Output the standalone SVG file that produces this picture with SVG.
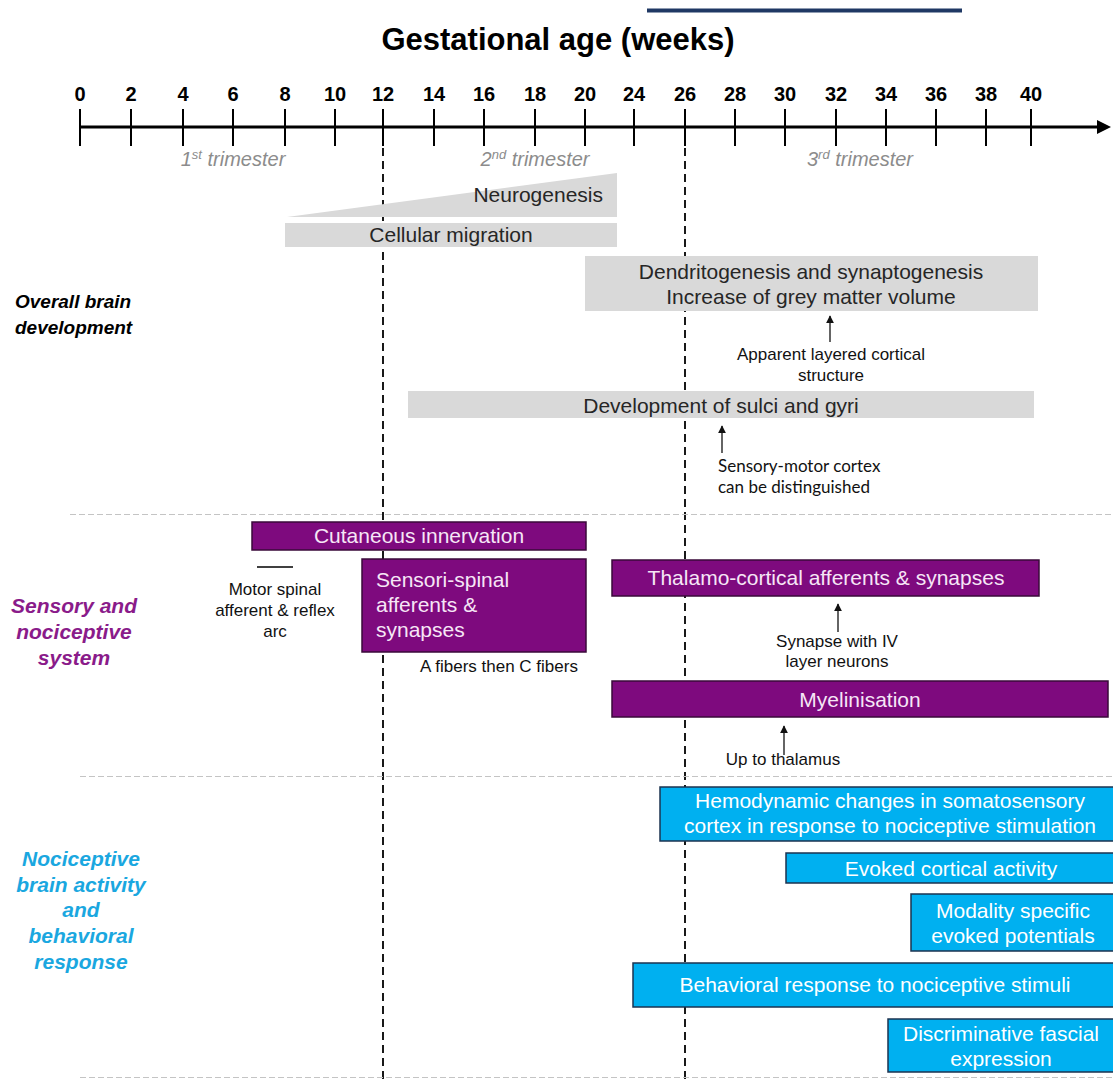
<svg xmlns="http://www.w3.org/2000/svg" width="1113" height="1079" viewBox="0 0 1113 1079">
<style>
  text { font-family: "Liberation Sans", Arial, sans-serif; }
  .tick { stroke:#000; stroke-width:2; }
  .tlab { font-size:20px; font-weight:bold; fill:#000; text-anchor:middle; }
  .tri { font-size:20px; font-style:italic; fill:#8c8c8c; text-anchor:middle; }
  .gray { fill:#d9d9d9; }
  .gtxt { font-size:21px; fill:#262626; text-anchor:middle; }
  .purp { fill:#7e0a7e; stroke:#3a0a3a; stroke-width:1.5; }
  .ptxt { font-size:21px; fill:#f6e6f6; text-anchor:middle; }
  .blue { fill:#00b0f0; stroke:#1b3350; stroke-width:1.5; }
  .btxt { font-size:21px; fill:#ffffff; text-anchor:middle; }
  .note { font-size:17px; fill:#111; text-anchor:middle; }
  .note2 { font-size:17px; fill:#111; font-family:Lato, "Open Sans", sans-serif; }
  .vdash { stroke:#000; stroke-width:1.8; stroke-dasharray:8 5; fill:none; }
  .sep { stroke:#c4c4c4; stroke-width:1.2; stroke-dasharray:6 3; fill:none; }
  .conn { stroke:#111; stroke-width:1.3; fill:none; marker-end:url(#ah); }
  .cat { font-size:21px; font-weight:bold; font-style:italic; text-anchor:middle; }
</style>
<defs>
  <marker id="ah" viewBox="0 0 10 10" refX="9" refY="5" markerWidth="8" markerHeight="8" markerUnits="userSpaceOnUse" orient="auto">
    <path d="M0,0 L10,5 L0,10 z" fill="#111"/>
  </marker>
</defs>
<rect width="1113" height="1079" fill="#ffffff"/>

<!-- top blue line -->
<rect x="647" y="8.5" width="315" height="4" fill="#1f3864"/>

<!-- title -->
<text x="558" y="50" font-size="31" font-weight="bold" text-anchor="middle" fill="#000">Gestational age (weeks)</text>

<!-- axis -->
<g id="axis">
  <line x1="80" y1="127" x2="1100" y2="127" stroke="#000" stroke-width="3"/>
  <path d="M1111,127 L1097,120 L1097,134 z" fill="#000"/>
  <g class="tick">
    <line x1="80" y1="109" x2="80" y2="146"/>
    <line x1="131" y1="109" x2="131" y2="146"/>
    <line x1="183" y1="109" x2="183" y2="146"/>
    <line x1="233" y1="109" x2="233" y2="146"/>
    <line x1="285" y1="109" x2="285" y2="146"/>
    <line x1="335" y1="109" x2="335" y2="146"/>
    <line x1="383" y1="109" x2="383" y2="146"/>
    <line x1="434" y1="109" x2="434" y2="146"/>
    <line x1="484" y1="109" x2="484" y2="146"/>
    <line x1="535" y1="109" x2="535" y2="146"/>
    <line x1="585" y1="109" x2="585" y2="146"/>
    <line x1="634" y1="109" x2="634" y2="146"/>
    <line x1="685" y1="109" x2="685" y2="146"/>
    <line x1="735" y1="109" x2="735" y2="146"/>
    <line x1="785" y1="109" x2="785" y2="146"/>
    <line x1="836" y1="109" x2="836" y2="146"/>
    <line x1="886" y1="109" x2="886" y2="146"/>
    <line x1="936" y1="109" x2="936" y2="146"/>
    <line x1="986" y1="109" x2="986" y2="146"/>
    <line x1="1031" y1="109" x2="1031" y2="146"/>
  </g>
  <g class="tlab">
    <text x="80" y="101">0</text>
    <text x="131" y="101">2</text>
    <text x="183" y="101">4</text>
    <text x="233" y="101">6</text>
    <text x="285" y="101">8</text>
    <text x="335" y="101">10</text>
    <text x="383" y="101">12</text>
    <text x="434" y="101">14</text>
    <text x="484" y="101">16</text>
    <text x="535" y="101">18</text>
    <text x="585" y="101">20</text>
    <text x="634" y="101">24</text>
    <text x="685" y="101">26</text>
    <text x="735" y="101">28</text>
    <text x="785" y="101">30</text>
    <text x="836" y="101">32</text>
    <text x="886" y="101">34</text>
    <text x="936" y="101">36</text>
    <text x="986" y="101">38</text>
    <text x="1031" y="101">40</text>
  </g>
  <text class="tri" x="233" y="166">1<tspan font-size="13" dy="-7">st</tspan><tspan dy="7"> trimester</tspan></text>
  <text class="tri" x="535" y="166">2<tspan font-size="13" dy="-7">nd</tspan><tspan dy="7"> trimester</tspan></text>
  <text class="tri" x="860" y="166">3<tspan font-size="13" dy="-7">rd</tspan><tspan dy="7"> trimester</tspan></text>
</g>

<!-- reference dashed lines and separators -->
<g id="guides">
  <line class="vdash" x1="383" y1="148" x2="383" y2="1079"/>
  <line class="vdash" x1="685" y1="148" x2="685" y2="1079"/>
  <line class="sep" x1="70" y1="514.5" x2="1113" y2="514.5"/>
  <line class="sep" x1="80" y1="776.5" x2="1113" y2="776.5"/>
  <line class="sep" x1="80" y1="1077.5" x2="1113" y2="1077.5" stroke="#e2e2e2"/>
</g>

<!-- category labels -->
<g id="cat-overall">
  <text x="15" y="308" font-size="19" font-weight="bold" font-style="italic" fill="#000">Overall brain</text>
  <text x="15" y="334" font-size="19" font-weight="bold" font-style="italic" fill="#000">development</text>
</g>
<g id="cat-sensory" class="cat" fill="#8a1b8a">
  <text x="74" y="613">Sensory and</text>
  <text x="74" y="639">nociceptive</text>
  <text x="74" y="665">system</text>
</g>
<g id="cat-activity" class="cat" fill="#1aa7e0">
  <text x="81" y="866">Nociceptive</text>
  <text x="81" y="892">brain activity</text>
  <text x="81" y="917">and</text>
  <text x="81" y="943">behavioral</text>
  <text x="81" y="969">response</text>
</g>

<!-- overall brain development -->
<g id="neurogenesis">
  <polygon class="gray" points="287,217 617,173 617,217"/>
  <text class="gtxt" x="603" y="202" text-anchor="end" style="text-anchor:end">Neurogenesis</text>
</g>
<g id="migration">
  <rect class="gray" x="285" y="223" width="332" height="24"/>
  <text class="gtxt" x="451" y="242">Cellular migration</text>
</g>
<g id="dendritogenesis">
  <rect class="gray" x="585" y="256" width="453" height="55"/>
  <text class="gtxt" x="811" y="279">Dendritogenesis and synaptogenesis</text>
  <text class="gtxt" x="811" y="304">Increase of grey matter volume</text>
</g>
<g id="note-layered">
  <text class="note" x="831" y="360">Apparent layered cortical</text>
  <text class="note" x="831" y="381">structure</text>
</g>
<g id="sulci">
  <rect class="gray" x="408" y="391" width="626" height="27"/>
  <text class="gtxt" x="721" y="413">Development of sulci and gyri</text>
</g>
<g id="note-sensorymotor">
  <text class="note2" x="718" y="472">Sensory-motor cortex</text>
  <text class="note2" x="718" y="493">can be distinguished</text>
</g>

<!-- sensory and nociceptive system -->
<g id="cutaneous">
  <rect class="purp" x="252" y="522" width="334" height="28"/>
  <text class="ptxt" x="419" y="543">Cutaneous innervation</text>
</g>
<g id="motor-spinal">
  <line x1="257" y1="567" x2="293" y2="567" stroke="#000" stroke-width="1.6"/>
  <text class="note" x="275" y="595">Motor spinal</text>
  <text class="note" x="275" y="616">afferent &amp; reflex</text>
  <text class="note" x="275" y="637">arc</text>
</g>
<g id="sensori-spinal">
  <rect class="purp" x="362" y="559" width="224" height="93"/>
  <text class="ptxt" x="376" y="587" style="text-anchor:start">Sensori-spinal</text>
  <text class="ptxt" x="376" y="612" style="text-anchor:start">afferents &amp;</text>
  <text class="ptxt" x="376" y="637" style="text-anchor:start">synapses</text>
</g>
<g id="note-fibers">
  <text class="note" x="499" y="672">A fibers then C fibers</text>
</g>
<g id="thalamo">
  <rect class="purp" x="612" y="560" width="427" height="36"/>
  <text class="ptxt" x="826" y="585">Thalamo-cortical afferents &amp; synapses</text>
</g>
<g id="note-synapse">
  <text class="note" x="837" y="647">Synapse with IV</text>
  <text class="note" x="837" y="667">layer neurons</text>
</g>
<g id="myelinisation">
  <rect class="purp" x="612" y="681" width="496" height="36"/>
  <text class="ptxt" x="860" y="707">Myelinisation</text>
</g>
<g id="note-thalamus">
  <text class="note" x="783" y="765">Up to thalamus</text>
</g>

<!-- nociceptive brain activity -->
<g id="hemodynamic">
  <rect class="blue" x="660" y="787" width="460" height="54"/>
  <text class="btxt" x="890" y="808">Hemodynamic changes in somatosensory</text>
  <text class="btxt" x="890" y="833">cortex in response to nociceptive stimulation</text>
</g>
<g id="evoked">
  <rect class="blue" x="786" y="853" width="332" height="30"/>
  <text class="btxt" x="951" y="876">Evoked cortical activity</text>
</g>
<g id="modality">
  <rect class="blue" x="911" y="894" width="207" height="57"/>
  <text class="btxt" x="1013" y="918">Modality specific</text>
  <text class="btxt" x="1013" y="943">evoked potentials</text>
</g>
<g id="behavioral">
  <rect class="blue" x="633" y="963" width="485" height="44"/>
  <text class="btxt" x="875" y="992">Behavioral response to nociceptive stimuli</text>
</g>
<g id="discriminative">
  <rect class="blue" x="888" y="1019" width="230" height="53"/>
  <text class="btxt" x="1001" y="1041">Discriminative fascial</text>
  <text class="btxt" x="1001" y="1066">expression</text>
</g>

<!-- connectors -->
<g id="connectors">
  <line class="conn" x1="830" y1="342" x2="830" y2="316"/>
  <line class="conn" x1="722" y1="453" x2="722" y2="426"/>
  <line class="conn" x1="838" y1="632" x2="838" y2="604"/>
  <line class="conn" x1="784" y1="755" x2="784" y2="726"/>
</g>
</svg>
